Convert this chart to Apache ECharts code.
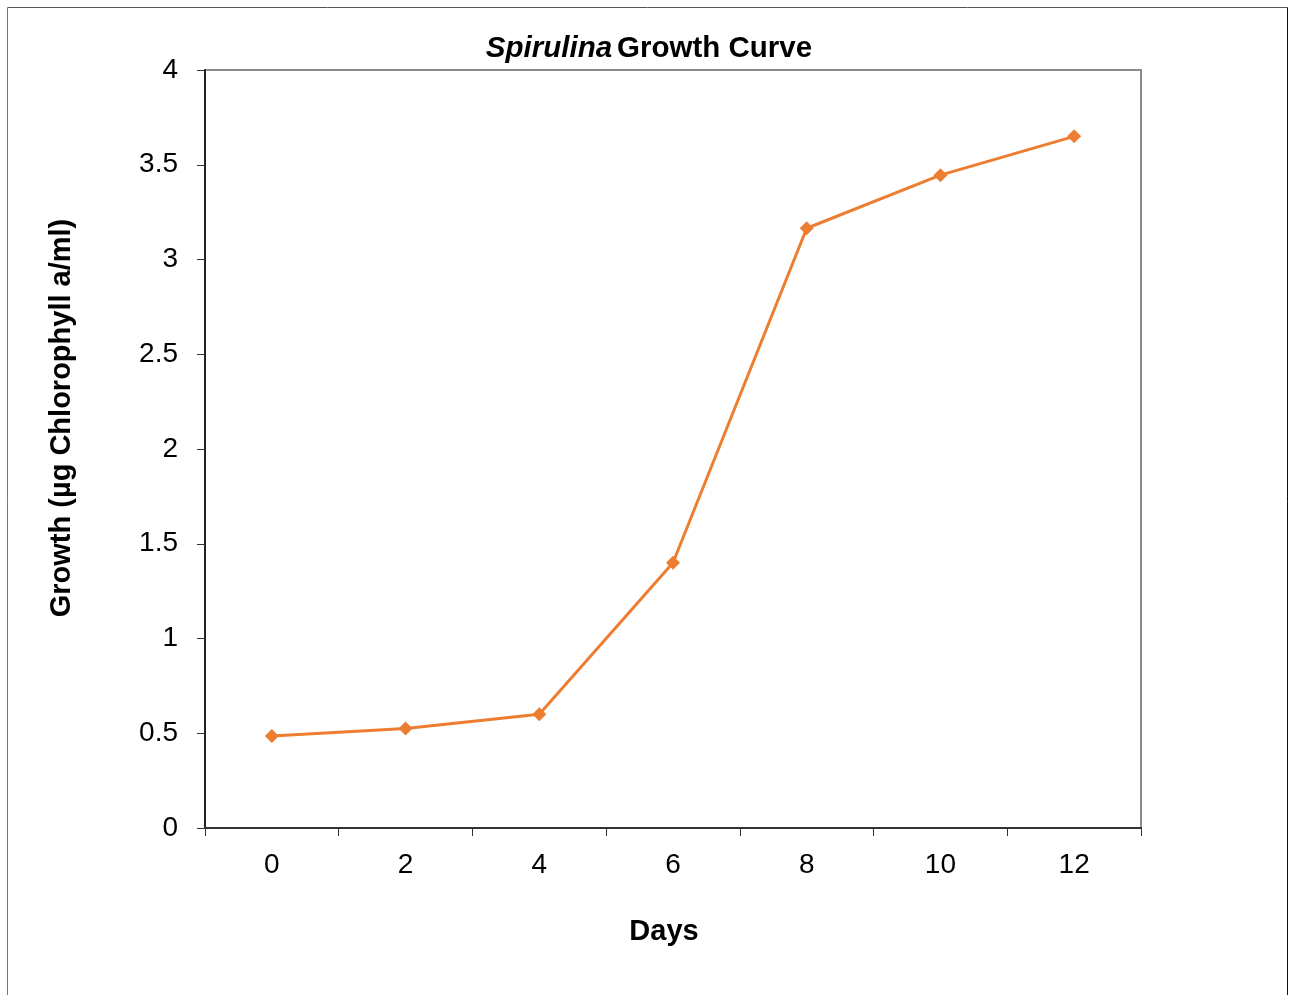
<!DOCTYPE html>
<html>
<head>
<meta charset="utf-8">
<script src="https://cdn.jsdelivr.net/npm/echarts@6/dist/echarts.min.js"></script>
<style>html,body{margin:0;padding:0;background:#fff;}#c{width:1295px;height:995px;}</style>
</head>
<body>
<div id="c"></div>
<script>
const days = ['0', '2', '4', '6', '8', '10', '12'];
const growth = [0.485, 0.525, 0.60, 1.40, 3.165, 3.445, 3.65];
const yTicks = { min: 0, max: 4, interval: 0.5 };

const chart = echarts.init(document.getElementById('c'), null, { renderer: 'canvas' });
const font = '"Liberation Sans", Arial, sans-serif';
chart.setOption({
  backgroundColor: '#ffffff',
  animation: false,
  title: {
    text: '{i|Spirulina} {b|Growth Curve}',
    left: 644, top: 29, textAlign: 'center',
    textStyle: {
      rich: {
        i: { fontFamily: font, fontSize: 29.5, fontWeight: 'bold', fontStyle: 'italic', color: '#000' },
        b: { fontFamily: font, fontSize: 29.5, fontWeight: 'bold', color: '#000' }
      }
    }
  },
  grid: { left: 205, top: 70, width: 936, height: 758, show: true, borderColor: '#8c8c8c', borderWidth: 2, backgroundColor: 'transparent' },
  xAxis: {
    type: 'category', data: days, boundaryGap: true,
    axisLine: { lineStyle: { color: '#333', width: 2 } },
    axisTick: { show: true, length: 8, alignWithLabel: false, lineStyle: { color: '#333', width: 1 } },
    axisLabel: { fontFamily: font, fontSize: 28, color: '#000', margin: 23 },
    splitLine: { show: false }
  },
  yAxis: {
    type: 'value', min: yTicks.min, max: yTicks.max, interval: yTicks.interval,
    axisLine: { show: true, lineStyle: { color: '#222', width: 2 } },
    axisTick: { show: true, length: 8, inside: false, lineStyle: { color: '#333', width: 1 } },
    axisLabel: { fontFamily: font, fontSize: 28, color: '#000', margin: 27 },
    splitLine: { show: false }
  },
  series: [{
    type: 'line', data: growth,
    symbol: 'diamond', symbolSize: 14,
    lineStyle: { color: '#ED7D31', width: 3 },
    itemStyle: { color: '#ED7D31' }
  }],
  graphic: [
    { type: 'line', shape: { x1: 7.5, y1: 7.5, x2: 1287.5, y2: 7.5 }, style: { stroke: '#555', lineWidth: 1 } },
    { type: 'line', shape: { x1: 7.5, y1: 7.5, x2: 7.5, y2: 1000 }, style: { stroke: '#777', lineWidth: 1 } },
    { type: 'line', shape: { x1: 1287.5, y1: 7.5, x2: 1287.5, y2: 1000 }, style: { stroke: '#111', lineWidth: 1 } },
    { type: 'text', style: { text: 'Days', x: 664, y: 932, align: 'center', verticalAlign: 'middle', font: 'bold 29px ' + font, fill: '#000' } },
    { type: 'text', x: 62, y: 418, rotation: Math.PI / 2, style: { text: 'Growth (µg Chlorophyll a/ml)', x: 0, y: 0, align: 'center', verticalAlign: 'middle', font: 'bold 29px ' + font, fill: '#000' } }
  ]
});
</script>
</body>
</html>
